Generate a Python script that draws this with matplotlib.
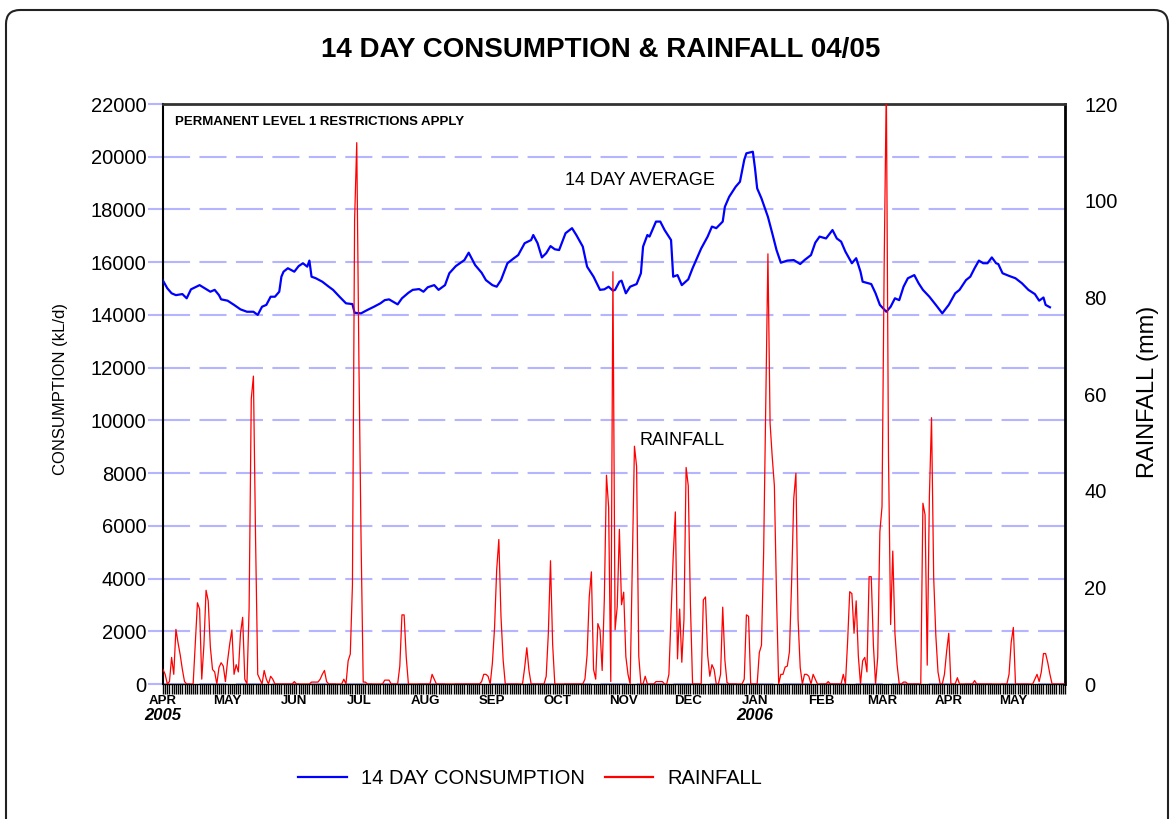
import numpy as np
import pandas as pd
import matplotlib
matplotlib.use("Agg")
import matplotlib.pyplot as plt
from matplotlib.patches import FancyBboxPatch
from matplotlib.lines import Line2D

plt.rcParams["font.family"] = ["Liberation Sans", "DejaVu Sans"]

# day 0 = 1 April 2005
start = pd.Timestamp("2005-04-01")
n_days = 420

# 14 day consumption (kL/d)
cons_day = [0, 2, 4, 6, 9, 11, 13, 15, 17, 20,
            22, 24, 26, 27, 30, 33, 36, 39, 42, 44,
            46, 48, 50, 52, 54, 55, 56, 58, 61, 63,
            65, 67, 68, 69, 71, 74, 77, 79, 82, 85,
            88, 89, 92, 95, 98, 101, 103, 105, 109, 111,
            114, 116, 119, 121, 123, 126, 128, 131, 133, 136,
            140, 142, 145, 148, 150, 153, 155, 157, 160, 163,
            165, 168, 171, 172, 174, 176, 178, 180, 182, 184,
            187, 190, 192, 195, 197, 200, 203, 205, 207, 209,
            210, 212, 213, 215, 217, 220, 222, 223, 225, 226,
            229, 231, 233, 236, 237, 239, 241, 244, 246, 248,
            250, 253, 255, 257, 260, 261, 263, 266, 268, 270,
            271, 274, 275, 276, 278, 281, 283, 285, 287, 290,
            293, 296, 298, 301, 303, 305, 308, 311, 313, 315,
            317, 320, 322, 324, 325, 329, 331, 333, 336, 338,
            340, 342, 344, 346, 349, 351, 353, 356, 359, 362,
            365, 368, 370, 373, 375, 377, 379, 381, 383, 385,
            387, 388, 390, 393, 396, 399, 402, 405, 407, 409,
            410, 412]
cons_kl = [15300, 15010, 14820, 14750, 14790, 14630, 14970, 15050, 15130, 14980,
           14880, 14950, 14750, 14590, 14540, 14380, 14210, 14120, 14120, 14000,
           14310, 14380, 14690, 14690, 14880, 15450, 15640, 15770, 15640, 15850,
           15960, 15830, 16060, 15450, 15390, 15260, 15070, 14950, 14690, 14440,
           14410, 14080, 14060, 14190, 14310, 14440, 14560, 14590, 14400, 14630,
           14840, 14950, 14980, 14880, 15050, 15130, 14950, 15130, 15580, 15850,
           16080, 16360, 15890, 15600, 15320, 15130, 15070, 15320, 15960, 16150,
           16270, 16720, 16840, 17030, 16720, 16180, 16340, 16610, 16490, 16460,
           17100, 17290, 17030, 16590, 15830, 15450, 14950, 14970, 15070, 14920,
           14950, 15260, 15300, 14820, 15070, 15170, 15580, 16590, 17030, 16970,
           17540, 17540, 17220, 16840, 15450, 15510, 15130, 15350, 15770, 16150,
           16520, 16970, 17350, 17290, 17540, 18100, 18480, 18860, 19050, 19880,
           20130, 20190, 19560, 18800, 18420, 17720, 17100, 16460, 15980, 16060,
           16080, 15930, 16080, 16270, 16740, 16970, 16900, 17220, 16900, 16780,
           16400, 15960, 16150, 15640, 15260, 15170, 14820, 14380, 14120, 14310,
           14630, 14560, 15070, 15390, 15510, 15200, 14950, 14690, 14380, 14060,
           14380, 14820, 14950, 15320, 15450, 15770, 16060, 15960, 15960, 16180,
           15960, 15930, 15580, 15480, 15390, 15200, 14950, 14790, 14540, 14660,
           14380, 14290]

# daily rainfall (mm), only the days with rain
rain_day = [0, 1, 3, 4, 5, 6, 7, 8, 9, 10,
            15, 16, 17, 18, 19, 20, 21, 22, 23, 24,
            26, 27, 28, 29, 30, 31, 32, 33, 34, 35,
            36, 37, 38, 40, 41, 42, 43, 44, 45, 47,
            48, 50, 51, 61, 69, 70, 71, 72, 73, 74,
            75, 76, 84, 86, 87, 88, 89, 90, 91, 92,
            93, 94, 103, 104, 105, 110, 111, 112, 113, 125,
            126, 148, 149, 150, 151, 153, 154, 155, 156, 157,
            158, 168, 169, 170, 178, 179, 180, 181, 196, 197,
            198, 199, 200, 201, 202, 203, 204, 205, 206, 207,
            208, 209, 210, 211, 212, 213, 214, 215, 216, 218,
            219, 220, 221, 224, 229, 230, 231, 232, 235, 236,
            237, 238, 239, 240, 241, 242, 243, 244, 245, 251,
            252, 253, 254, 255, 256, 259, 260, 261, 262, 270,
            271, 272, 277, 278, 279, 280, 281, 282, 283, 284,
            285, 287, 288, 289, 290, 291, 292, 293, 294, 295,
            296, 298, 299, 300, 302, 303, 309, 316, 318, 319,
            320, 321, 322, 323, 325, 326, 327, 328, 329, 330,
            332, 333, 334, 335, 336, 337, 338, 339, 340, 341,
            344, 345, 353, 354, 355, 356, 357, 358, 359, 360,
            363, 364, 365, 369, 377, 393, 394, 395, 405, 406,
            407, 408, 409, 410, 411, 412]
rain_mm = [3, 2, 0.5, 5.5, 2, 11.3, 8.5, 6, 3, 0.5,
           8.6, 16.8, 15.5, 1, 8, 19.4, 17.2, 7.6, 3, 2.5,
           3.4, 4.4, 3.7, 0.5, 4.8, 8.3, 11.2, 2, 4, 2.5,
           10.5, 13.8, 1, 15.6, 59, 63.7, 30, 2, 1, 2.8,
           1, 1.6, 1, 0.5, 0.4, 0.4, 0.4, 0.4, 1, 2,
           2.8, 0.5, 1, 4.8, 6.2, 20.5, 96, 112, 67, 30,
           0.4, 0.4, 0.8, 0.8, 0.8, 3.7, 14.3, 14.3, 5.5, 2,
           1, 0.5, 2, 2, 1.6, 4.3, 11.5, 23.6, 29.9, 14,
           5, 3.4, 7.5, 2.8, 1.6, 10.5, 25.5, 8.2, 1, 6,
           18, 23.2, 3, 1, 12.5, 11.2, 2.8, 17.4, 43.2, 36.6,
           0.5, 85.3, 11.2, 16, 32, 16.4, 19, 5.7, 2, 24.6,
           49.2, 45, 5.8, 1.6, 0.5, 0.5, 0.5, 0.5, 2, 14,
           26.3, 35.6, 5.2, 15.5, 4.5, 13.4, 44.8, 41, 16.4, 17.4,
           18, 6, 1.6, 4, 3, 2, 15.9, 5, 0.3, 1,
           14.3, 14, 6.5, 8, 27, 57.5, 89, 54, 47, 41,
           18, 2, 2, 3.5, 3.7, 6.7, 21, 38.4, 43.6, 13.4,
           3.4, 2, 2, 1.6, 2, 1, 0.5, 2, 8.6, 19.1,
           18.7, 10.5, 17.2, 5.8, 4.8, 5.5, 2.5, 22.2, 22.2, 8,
           5.5, 31.5, 36.7, 86.7, 124, 47.4, 12.3, 27.5, 10.5, 4,
           0.4, 0.4, 37.4, 35, 3.9, 38.8, 55.1, 22, 10, 2.5,
           2, 6.7, 10.5, 1.3, 0.7, 2, 8.6, 11.7, 1, 2,
           0.5, 2.5, 6.3, 6.3, 4.4, 2]

month_labels = ["APR", "MAY", "JUN", "JUL", "AUG", "SEP", "OCT",
                "NOV", "DEC", "JAN", "FEB", "MAR", "APR", "MAY"]
year_labels = ["2005", "2006"]
year_dates = ["2005-04-01", "2006-01-01"]

cons_dates = start + pd.to_timedelta(cons_day, unit="D")
all_dates = pd.date_range(start, periods=n_days, freq="D")
rain = np.zeros(n_days)
rain[rain_day] = rain_mm
month_starts = pd.date_range(start, periods=len(month_labels), freq="MS")

W, H = 1173, 819
fig = plt.figure(figsize=(W / 100, H / 100), dpi=100)

# rounded outer frame
frame = FancyBboxPatch((6 / W, -0.05), 1162 / W, 1.05 - 10 / H,
                       boxstyle="round,pad=0,rounding_size=0.012",
                       mutation_aspect=W / H, transform=fig.transFigure,
                       fill=False, edgecolor="#222222", linewidth=1.5)
fig.add_artist(frame)

ax = fig.add_axes([163 / W, 1 - 684 / H, 902 / W, 580 / H])
grid_col = "#b4b4ff"

ax.plot(cons_dates, cons_kl, color="#0000ff", linewidth=1.6, zorder=3)
ax.set_ylim(0, 22000)
ax.set_yticks(np.arange(0, 22001, 2000))
ax.set_xlim(start, start + pd.Timedelta(days=419))
ax.yaxis.grid(True, color=grid_col, linestyle=(0, (13, 4.5)), linewidth=1.5)
ax.set_axisbelow(True)

ax.tick_params(axis="y", length=10.8, width=1.5, color=grid_col,
               labelsize=14.5, pad=1)
ax.set_xticks(month_starts)
ax.set_xticklabels(month_labels, fontweight="bold")
ax.set_xticks(all_dates, minor=True)
ax.tick_params(axis="x", which="both", direction="out", length=7,
               width=1.0, color="black", labelsize=9.5, pad=1)

ax.spines["left"].set_linewidth(1.5)
ax.spines["top"].set_color("#333333")
ax.spines["top"].set_linewidth(2)
ax.spines["right"].set_linewidth(2)
ax.spines["bottom"].set_linewidth(1)

for lbl, d in zip(year_labels, year_dates):
    ax.text(pd.Timestamp(d), -0.055, lbl, transform=ax.get_xaxis_transform(),
            ha="center", va="center", fontsize=12, fontweight="bold",
            fontstyle="italic")

ax2 = ax.twinx()
ax2.plot(all_dates, rain, color="#ff0000", linewidth=0.9)
ax2.set_ylim(0, 120)
ax2.set_yticks(np.arange(0, 121, 20))
ax2.tick_params(axis="y", length=0, labelsize=14.5, pad=14)
for s in ax2.spines.values():
    s.set_visible(False)

ax.text(0.0133, 0.969, "PERMANENT LEVEL 1 RESTRICTIONS APPLY",
        transform=ax.transAxes, ha="left", va="center",
        fontsize=9.5, fontweight="bold")
ax.text(0.4457, 0.868, "14 DAY AVERAGE", transform=ax.transAxes,
        ha="left", va="center", fontsize=13)
ax.text(0.5288, 0.419, "RAINFALL", transform=ax.transAxes,
        ha="left", va="center", fontsize=13)

fig.text(600.5 / W, 1 - 50 / H, "14 DAY CONSUMPTION & RAINFALL 04/05",
         ha="center", va="center", fontsize=20, fontweight="bold")
fig.text(60 / W, 1 - 389 / H, "CONSUMPTION (kL/d)", rotation=90,
         ha="center", va="center", fontsize=12)
fig.text(1148 / W, 1 - 392 / H, "RAINFALL (mm)", rotation=90,
         ha="center", va="center", fontsize=17)

handles = [Line2D([], [], color="#0000ff", linewidth=1.6),
           Line2D([], [], color="#ff0000", linewidth=1.6)]
fig.legend(handles, ["14 DAY CONSUMPTION", "RAINFALL"], loc="center",
           bbox_to_anchor=(530 / W, 1 - 779 / H), ncol=2, frameon=False,
           fontsize=14.5, handlelength=2.4, handletextpad=0.7,
           columnspacing=1.0)

fig.savefig("out.png", dpi=100)
